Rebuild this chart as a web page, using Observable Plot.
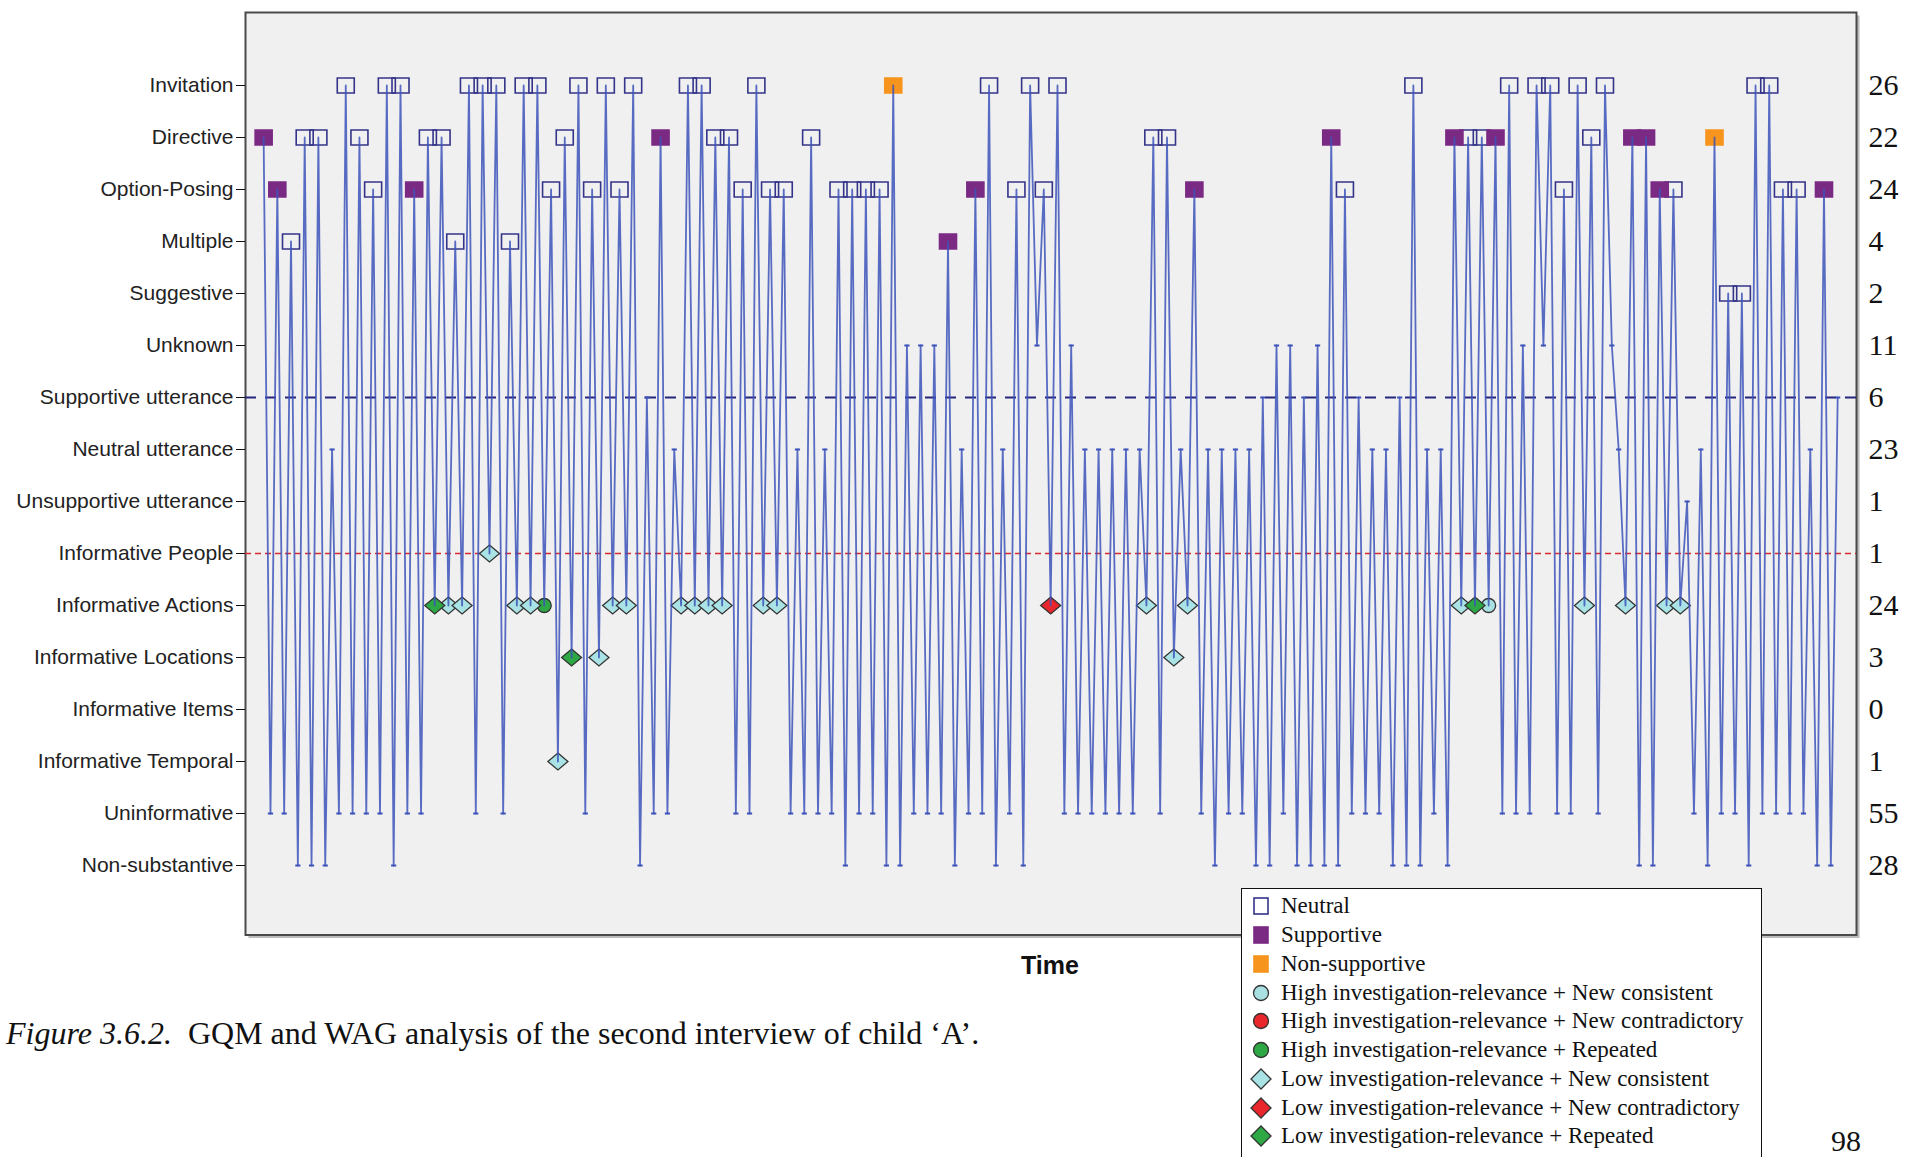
<!DOCTYPE html>
<html><head><meta charset="utf-8">
<script src="https://cdn.jsdelivr.net/npm/d3@7"></script>
<script src="https://cdn.jsdelivr.net/npm/@observablehq/plot@0.6"></script>
<style>
html,body{margin:0;padding:0;background:#fff;}
body{width:1908px;height:1157px;overflow:hidden;position:relative;}
#chart{position:absolute;left:0;top:0;}
#time{position:absolute;left:1050px;top:950px;transform:translateX(-50%);font:bold 25px "Liberation Sans Narrow","Liberation Sans",Arial,sans-serif;line-height:30px;color:#111;}
#caption{position:absolute;left:6px;top:1015px;font:32px "Liberation Serif","Times New Roman",serif;line-height:36px;color:#111;white-space:nowrap;}
#legend{position:absolute;left:1241px;top:888px;width:521px;height:300px;box-sizing:border-box;border:1.5px solid #111;background:#fff;padding-top:3px;z-index:5;}
.row{display:flex;align-items:center;height:28.75px;font:23px "Liberation Serif","Times New Roman",serif;color:#111;white-space:nowrap;}
.row svg{margin-left:8px;margin-right:9px;flex:none;}
#page{position:absolute;left:1831px;top:1124px;font:30px "Liberation Serif","Times New Roman",serif;line-height:34px;color:#111;}
</style></head>
<body>
<div id="chart"></div>
<div id="time">Time</div>
<div id="caption"><i>Figure 3.6.2.</i>&nbsp; GQM and WAG analysis of the second interview of child ‘A’.</div>
<div id="legend"></div>
<div id="page">98</div>
<script>
// Categories (top to bottom)
const categories = ["Invitation","Directive","Option-Posing","Multiple","Suggestive","Unknown",
  "Supportive utterance","Neutral utterance","Unsupportive utterance",
  "Informative People","Informative Actions","Informative Locations","Informative Items",
  "Informative Temporal","Uninformative","Non-substantive"];
// Totals shown at right
const counts = [26,22,24,4,2,11,6,23,1,1,24,3,0,1,55,28];
// Sequence of turns over time (category index for each time step)
const seq = [1,14,2,14,3,15,1,15,1,15, 7,14,0,14,1,14,2,14,0,15, 0,14,2,14,1,10,1,10,3,10,
  0,14,0,9,0,14,3,10,0,10, 0,10,2,13,1,11,0,14,2,11, 0,10,2,10,0,15,6,14,1,14,
  7,10,0,10,0,10,1,10,1,14, 2,14,0,10,2,10,2,14,7,14, 1,14,7,14,2,15,2,14,2,14,
  2,15,0,15,5,14,5,14,5,14, 3,15,7,14,2,14,0,15,7,14, 2,15,0,5,2,10,0,14,5,14,
  7,14,7,14,7,14,7,14,7,10, 1,14,1,11,7,10,2,14,7,15, 7,14,7,14,7,15,6,15,5,14,
  5,15,6,15,5,15,1,15,2,14, 6,14,7,14,7,15,6,15,0,15, 7,14,7,15,1,10,1,10,1,10,
  1,14,0,14,5,14,0,5,0,14, 2,14,0,10,1,14,0,5,7,10, 1,15,1,15,2,10,2,10,8,14,
  7,15,1,14,4,14,4,15,0,14, 0,14,2,14,2,14,7,15,2,15, 6];
// Tone of each rated question, in order (N neutral, S supportive, X non-supportive)
const questionTones = ["S","S","N","N","N","N","N","N","N","N","S",
  "N","N","N","N","N","N","N","N","N","N","N","N","N","N","N","N","S",
  "N","N","N","N","N","N","N","N","N","N","N","N","N","X","S","S",
  "N","N","N","N","N","N","N","S","S","N","N","S","N","N","S",
  "N","N","N","N","N","N","N","S","S","S","N","X","N","N","N","N","N","N","S"];
// WAG code of each informative answer, in order
const infoCodes = ["LR","LC","LC","LC","LC","LC","HR","LC","LR","LC","LC","LC","LC","LC","LC","LC",
  "LC","LC","LX","LC","LC","LC","LC","LR","HC","LC","LC","LC","LC"];
const legendItems = [["Neutral","N"],["Supportive","S"],["Non-supportive","X"],
  ["High investigation-relevance + New consistent","HC"],["High investigation-relevance + New contradictory","HX"],
  ["High investigation-relevance + Repeated","HR"],["Low investigation-relevance + New consistent","LC"],
  ["Low investigation-relevance + New contradictory","LX"],["Low investigation-relevance + Repeated","LR"]];

const styles = {
  N:{shape:"rect",fill:"none",stroke:"#34348a"},
  S:{shape:"rect",fill:"#7b2a84",stroke:"#7b2a84"},
  X:{shape:"rect",fill:"#f7941d",stroke:"#f7941d"},
  HC:{shape:"circle",fill:"#a9e1e3",stroke:"#333"},
  HX:{shape:"circle",fill:"#e8262b",stroke:"#333"},
  HR:{shape:"circle",fill:"#2ea844",stroke:"#333"},
  LC:{shape:"diamond",fill:"#a9e3e5",stroke:"#333"},
  LX:{shape:"diamond",fill:"#e8262b",stroke:"#333"},
  LR:{shape:"diamond",fill:"#2ea844",stroke:"#333"}
};

let qi = 0, ri = 0;
const points = seq.map((c, i) => {
  let code = null;
  if (c <= 4) code = questionTones[qi++];
  else if (c >= 9 && c <= 13) code = infoCodes[ri++];
  return {i, cat: categories[c], code};
});
const countMap = new Map(categories.map((c, k) => [c, counts[k]]));

const rectSym = {draw(ctx){ctx.moveTo(-8.5,-7.5);ctx.lineTo(8.5,-7.5);ctx.lineTo(8.5,7.5);ctx.lineTo(-8.5,7.5);ctx.closePath();}};
const diamondSym = {draw(ctx){ctx.moveTo(0,-8.5);ctx.lineTo(10,0);ctx.lineTo(0,8.5);ctx.lineTo(-10,0);ctx.closePath();}};
const circleSym = {draw(ctx){ctx.moveTo(7,0);ctx.arc(0,0,7,0,2*Math.PI);ctx.closePath();}};
const tickSym = {draw(ctx){ctx.moveTo(-2.6,0);ctx.lineTo(2.6,0);}};
const symFor = {rect: rectSym, diamond: diamondSym, circle: circleSym};

const markerMarks = Object.entries(styles).map(([code, st]) =>
  Plot.dot(points.filter(d => d.code === code), {
    x: "i", y: "cat", r: 1, symbol: symFor[st.shape],
    fill: st.fill, stroke: st.stroke, strokeWidth: st.shape === "rect" ? 1.6 : 1.3
  }));

const lineColor = "#3d53ba";
const chart = Plot.plot({
  width: 1908, height: 940,
  marginLeft: 245, marginRight: 52, marginTop: 12, marginBottom: 5.5,
  x: {domain: [-2.65, 232.75], axis: null},
  y: {type: "point", domain: categories, range: [85, 865], padding: 0, axis: null},
  style: {background: "transparent", overflow: "visible"},
  marks: [
    Plot.frame({fill: "#bcbcbc", stroke: "none", dx: 3, dy: 3}),
    Plot.frame({fill: "#f0f0f0", stroke: "#4a4a4a", strokeWidth: 2}),
    Plot.ruleY(["Supportive utterance"], {stroke: "#25257c", strokeWidth: 2, strokeDasharray: "11,9"}),
    Plot.ruleY(["Informative People"], {stroke: "#d52b2b", strokeWidth: 1.4, strokeDasharray: "6,4"}),
    ...markerMarks,
    Plot.line(points, {x: "i", y: "cat", stroke: lineColor, strokeWidth: 1.8, strokeOpacity: 0.85}),
    Plot.dot(points.filter(d => !d.code), {x: "i", y: "cat", r: 1, symbol: tickSym, stroke: lineColor, strokeWidth: 2}),
    Plot.axisY({anchor: "left", tickSize: 9, tickPadding: 3, fontSize: 21, fill: "#222",
      fontFamily: "'Liberation Sans', Arial, sans-serif", label: null, stroke: "#111"}),
    Plot.axisY({anchor: "right", tickSize: 0, tickPadding: 12, fontSize: 30, fill: "#111",
      fontFamily: "'Liberation Serif', 'Times New Roman', serif", label: null,
      tickFormat: d => countMap.get(d)})
  ]
});
document.getElementById("chart").append(chart);

// Legend
const legend = document.getElementById("legend");
for (const [label, code] of legendItems) {
  const st = styles[code];
  let shape;
  if (st.shape === "rect") shape = `<rect x="4" y="3" width="14" height="16" fill="${st.fill === "none" ? "#fff" : st.fill}" stroke="${st.stroke}" stroke-width="1.6"/>`;
  else if (st.shape === "circle") shape = `<circle cx="11" cy="11" r="7.5" fill="${st.fill}" stroke="${st.stroke}" stroke-width="1.3"/>`;
  else shape = `<path d="M11,1 L21,11 L11,21 L1,11 Z" fill="${st.fill}" stroke="${st.stroke}" stroke-width="1.3"/>`;
  const row = document.createElement("div");
  row.className = "row";
  row.innerHTML = `<svg width="22" height="22" viewBox="0 0 22 22">${shape}</svg><span>${label}</span>`;
  legend.append(row);
}
</script>
</body></html>
